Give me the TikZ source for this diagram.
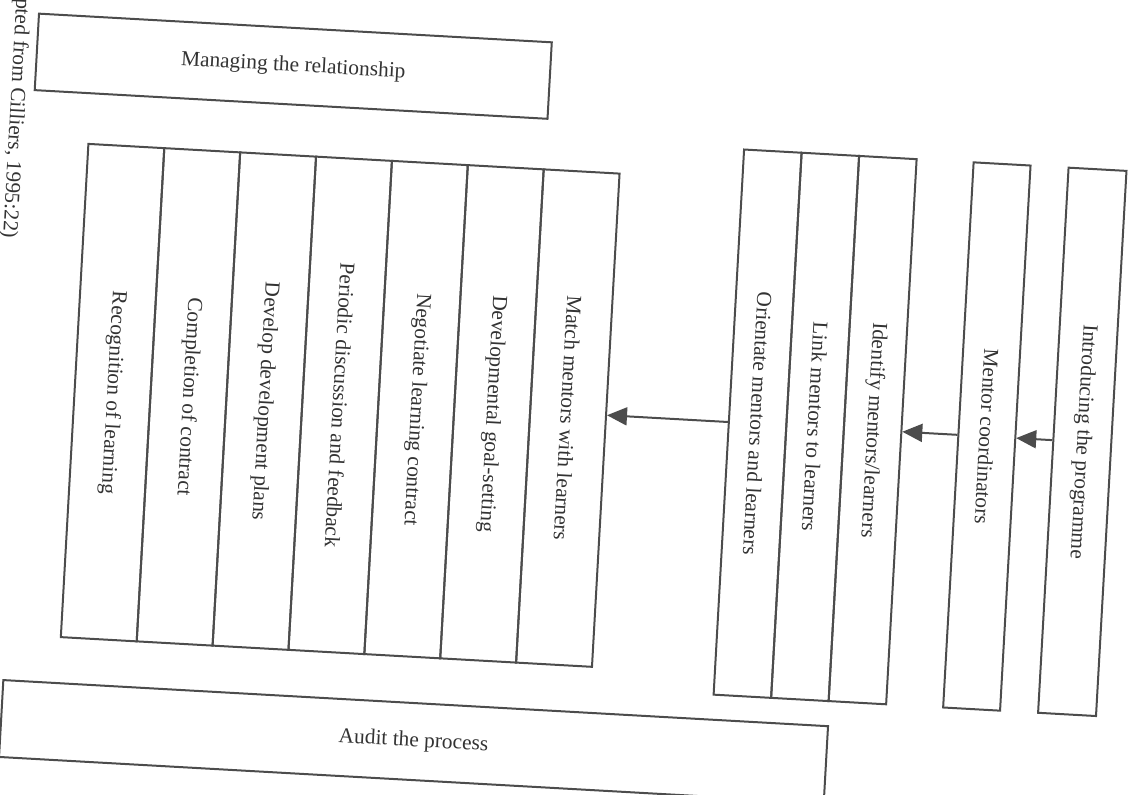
\documentclass[tikz,border=0pt]{standalone}
\usepackage{fontspec}
\setmainfont{Liberation Serif}
\usetikzlibrary{arrows.meta,calc}

\begin{document}
\begin{tikzpicture}
[every node/.style={inner sep=0pt, text=black!80, font=\fontsize{10.7pt}{12pt}\selectfont},
 box/.style={draw=black!70, line width=1pt},
 column/.style={box, minimum width=38pt, minimum height=247pt},
 stage/.style={box, minimum width=28.8pt, minimum height=273pt},
 link/.style={line width=1pt, draw=black!70, -{Triangle[length=10pt, width=9pt]}}]
\useasboundingbox (0pt, 0pt) rectangle (567pt, -397pt);
\begin{scope}[rotate around={-3.2:(283.5pt, -198.5pt)}, transform shape]
\node (cite) at (0.2pt, -74.8pt) {\rotatebox{-90}{pted from Cilliers, 1995:22)}};
\node (manage) [box, minimum width=256.8pt, minimum height=38.3pt] at (137.6pt, -41.0pt) {Managing the relationship};
% the seven steps of the relationship
\node (recog) [column] at (56.5pt, -209.0pt) {\rotatebox{-90}{Recognition of learning}};
\node (complete) [column] at (94.5pt, -209.0pt) {\rotatebox{-90}{Completion of contract}};
\node (plans) [column] at (132.5pt, -209.0pt) {\rotatebox{-90}{Develop development plans}};
\node (periodic) [column] at (170.5pt, -209.0pt) {\rotatebox{-90}{Periodic discussion and feedback}};
\node (negotiate) [column] at (208.5pt, -209.0pt) {\rotatebox{-90}{Negotiate learning contract}};
\node (goals) [column] at (246.5pt, -209.0pt) {\rotatebox{-90}{Developmental goal-setting}};
\node (match) [column] at (284.5pt, -209.0pt) {\rotatebox{-90}{Match mentors with learners}};
% preparing the programme
\node (orient) [stage] at (379.4pt, -206.5pt) {\rotatebox{-90}{Orientate mentors and learners}};
\node (linkml) [stage] at (408.2pt, -206.5pt) {\rotatebox{-90}{Link mentors to learners}};
\node (ident) [stage] at (437.0pt, -206.5pt) {\rotatebox{-90}{Identify mentors/learners}};
\node (coord) [stage, minimum width=28.5pt] at (494.2pt, -206.5pt) {\rotatebox{-90}{Mentor coordinators}};
\node (intro) [stage, minimum width=29pt] at (542.0pt, -206.5pt) {\rotatebox{-90}{Introducing the programme}};
\node (audit) [box, minimum width=413pt, minimum height=38.5pt] at (216.5pt, -374.8pt) {Audit the process};
\draw [link] (intro.west) to (coord.east);
\draw [link] (coord.west) to (ident.east);
\draw [link] (orient.west) to ($(match.north east)!(orient.west)!(match.south east)$);
\end{scope}
\end{tikzpicture}
\end{document}
